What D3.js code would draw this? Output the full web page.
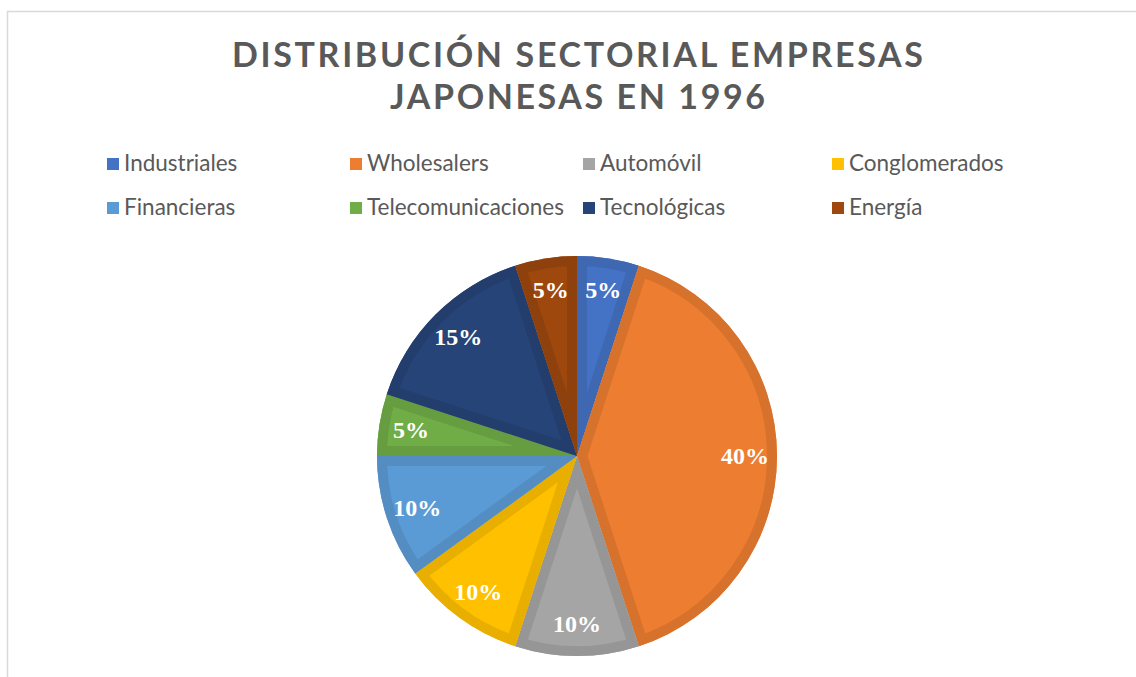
<!DOCTYPE html>
<html>
<head>
<meta charset="utf-8">
<script src="https://cdn.jsdelivr.net/npm/d3@7"></script>
<style>
  html, body { margin: 0; padding: 0; background: #ffffff; }
  svg { display: block; }
</style>
</head>
<body>
<svg id="chart" width="1136" height="677"></svg>
<script>
const titleLines = ["DISTRIBUCIÓN SECTORIAL EMPRESAS", "JAPONESAS EN 1996"];
const categories = ["Industriales", "Wholesalers", "Automóvil", "Conglomerados",
                    "Financieras", "Telecomunicaciones", "Tecnológicas", "Energía"];
const values = [5, 40, 10, 10, 10, 5, 15, 5];
const colors = ["#4472C4", "#ED7D31", "#A5A5A5", "#FFC000",
                "#5B9BD5", "#70AD47", "#264478", "#9E480E"];

const svg = d3.select("#chart");

// chart area border
svg.append("rect")
  .attr("x", 7.5).attr("y", 11.5)
  .attr("width", 1300).attr("height", 1000)
  .attr("fill", "#ffffff")
  .attr("stroke", "#d9d9d9").attr("stroke-width", 1.5);

// title
const titleWidths = [691, 375];
const titleBaselines = [67, 109];
titleLines.forEach((t, i) => {
  svg.append("text")
    .attr("x", 577.5).attr("y", titleBaselines[i])
    .attr("text-anchor", "middle")
    .attr("font-family", "Lato, 'Open Sans', sans-serif")
    .attr("font-weight", "bold")
    .attr("font-size", 34)
    .attr("fill", "#595959")
    .attr("textLength", titleWidths[i])
    .attr("lengthAdjust", "spacing")
    .text(t);
});

// legend
const colX = [107, 350, 583, 832];
const rowY = [171, 215];
const legend = svg.append("g");
categories.forEach((c, i) => {
  const col = i % 4, row = Math.floor(i / 4);
  const g = legend.append("g").attr("transform", `translate(${colX[col]},${rowY[row]})`);
  g.append("rect").attr("x", 0).attr("y", -13).attr("width", 12).attr("height", 12)
    .attr("fill", colors[i]);
  g.append("text").attr("x", 17).attr("y", 0)
    .attr("font-family", "Lato, 'Open Sans', sans-serif")
    .attr("font-size", 22.5)
    .attr("fill", "#595959")
    .text(c);
});

// pie
const cx = 577, cy = 456, R = 200;
const pie = d3.pie().sort(null).value(d => d)(values);
const arc = d3.arc().innerRadius(0).outerRadius(R);
const labelArc = d3.arc().innerRadius(168).outerRadius(168);
const total = d3.sum(values);

const defs = svg.append("defs");
const pg = svg.append("g").attr("transform", `translate(${cx},${cy})`);

pie.forEach((d, i) => {
  const p = arc(d);
  defs.append("clipPath").attr("id", "clip" + i)
    .append("path").attr("d", p);
  pg.append("path").attr("d", p).attr("fill", colors[i]);
  pg.append("path").attr("d", p)
    .attr("fill", "none")
    .attr("stroke", d3.color(colors[i]).darker(0.27))
    .attr("stroke-width", 20)
    .attr("stroke-linejoin", "miter")
    .attr("clip-path", `url(#clip${i})`);
});

pie.forEach((d, i) => {
  const [lx, ly] = labelArc.centroid(d);
  pg.append("text")
    .attr("x", lx).attr("y", ly)
    .attr("text-anchor", "middle")
    .attr("dominant-baseline", "central")
    .attr("font-family", "'Liberation Serif', 'DejaVu Serif', serif")
    .attr("font-weight", "bold")
    .attr("font-size", 24)
    .attr("fill", "#ffffff")
    .text(Math.round(d.data / total * 100) + "%");
});
</script>
</body>
</html>
